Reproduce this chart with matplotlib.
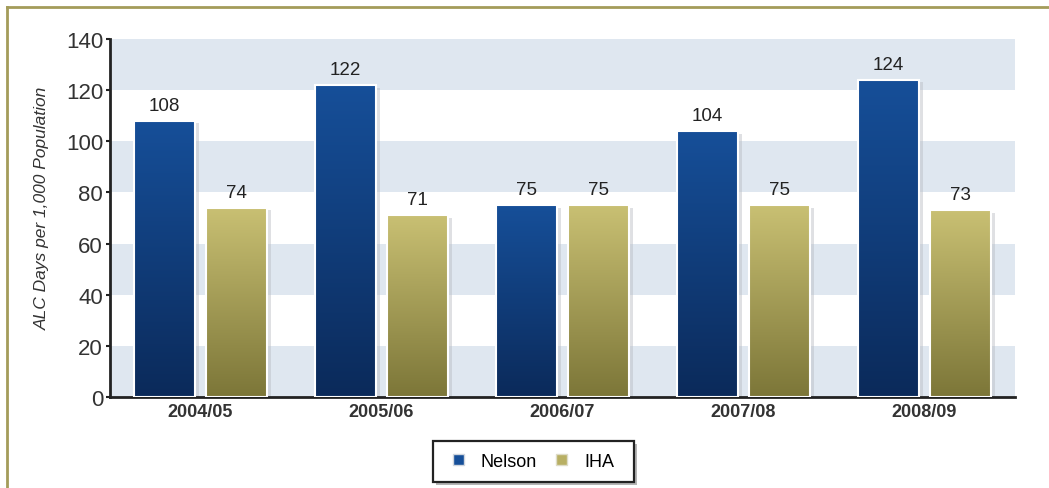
import numpy as np
import matplotlib.pyplot as plt
from matplotlib.colors import LinearSegmentedColormap
from matplotlib.patches import Rectangle, Patch

# data
years = ["2004/05", "2005/06", "2006/07", "2007/08", "2008/09"]
nelson = [108, 122, 75, 104, 124]
iha = [74, 71, 75, 75, 73]

W, H = 1049, 489
fig = plt.figure(figsize=(W / 100, H / 100), dpi=100)
fig.patch.set_facecolor("white")
ax = fig.add_axes([110 / W, 1 - 398 / H, 905 / W, 358 / H])

# outer olive frame (left and top only visible)
fig.add_artist(plt.Line2D([7 / W, 7 / W], [0, 1 - 8 / H], transform=fig.transFigure,
                          color="#a49c5a", lw=2))
fig.add_artist(plt.Line2D([7 / W, 1], [1 - 8 / H, 1 - 8 / H], transform=fig.transFigure,
                          color="#a49c5a", lw=2))

x = np.arange(len(years))
w = 0.34

# alternating background bands
for lo in range(0, 140, 40):
    ax.axhspan(lo, lo + 20, color="#dfe7f0", zorder=0, lw=0)
ax.axhspan(120, 140, color="#dfe7f0", zorder=0, lw=0)

blue_cm = LinearSegmentedColormap.from_list("b", ["#0b2a5a", "#164f99"])
olive_cm = LinearSegmentedColormap.from_list("o", ["#7c7638", "#c9c073"])
grad = np.linspace(0, 1, 256).reshape(-1, 1)


def draw(vals, offset, cmap):
    bars = ax.bar(x + offset, vals, w, color="none", edgecolor="none", zorder=3)
    for b, v in zip(bars, vals):
        x0, bw = b.get_x(), b.get_width()
        # shadow
        ax.add_patch(Rectangle((x0 + 0.02, 0), bw, v - 1.0, color="#b8bcc2",
                               alpha=0.45, zorder=2, lw=0))
        ax.imshow(grad, extent=(x0, x0 + bw, 0, v), origin="lower", cmap=cmap,
                  aspect="auto", zorder=3)
        ax.add_patch(Rectangle((x0, 0), bw, v, fill=False, edgecolor="white",
                               lw=1.5, zorder=4))
        ax.text(x0 + bw / 2, v + 2.8, str(v), ha="center", va="bottom",
                fontsize=13.5, color="#222222", family="Liberation Sans", zorder=5)
    return bars


draw(nelson, -0.2, blue_cm)
draw(iha, 0.2, olive_cm)
ax.set_xlim(-0.5, len(years) - 0.5)
ax.set_ylim(0, 140)

ax.set_xticks(x)
ax.set_xticklabels(years, fontsize=13, fontweight="bold", color="#333333", family="Liberation Sans")
ax.set_yticks(range(0, 141, 20))
ax.set_yticklabels([str(v) for v in range(0, 141, 20)], fontsize=16, color="#333333",
                   family="Liberation Sans")
ax.tick_params(axis="x", length=0, pad=4)
ax.tick_params(axis="y", length=3, pad=2, width=1.5, color="#222222")
for s in ["top", "right"]:
    ax.spines[s].set_visible(False)
ax.spines["left"].set_linewidth(2)
ax.spines["bottom"].set_linewidth(2)
ax.spines["left"].set_color("#222222")
ax.spines["bottom"].set_color("#222222")

ax.set_ylabel("ALC Days per 1,000 Population", fontsize=12.5, style="italic", color="#333333",
              family="Liberation Sans")
ax.yaxis.set_label_coords(-0.066, 0.53)

# legend box with shadow
bx0, by0, bx1, by1 = 433, 442, 634, 483
fig.add_artist(Rectangle((bx0 / W + 3 / W, 1 - by1 / H - 3 / H), (bx1 - bx0) / W, (by1 - by0) / H,
                         transform=fig.transFigure, facecolor="#b5b5b5", edgecolor="none", zorder=1))
fig.add_artist(Rectangle((bx0 / W, 1 - by1 / H), (bx1 - bx0) / W, (by1 - by0) / H,
                         transform=fig.transFigure, facecolor="white", edgecolor="#222222",
                         lw=1.6, zorder=2))
handles = [Patch(facecolor="#164f99", edgecolor="#d0d6de", label="Nelson"),
           Patch(facecolor="#b8af63", edgecolor="#dedcc8", label="IHA")]
leg = fig.legend(handles=handles, loc="center",
                 bbox_to_anchor=((bx0 + bx1) / 2 / W, 1 - (by0 + by1) / 2 / H),
                 ncol=2, frameon=False, handlelength=0.6, handleheight=0.6,
                 columnspacing=1.05, handletextpad=0.95, borderpad=0.0,
                 prop={"family": "Liberation Sans", "size": 13})
leg.set_zorder(3)

fig.savefig("out.png", dpi=100)
